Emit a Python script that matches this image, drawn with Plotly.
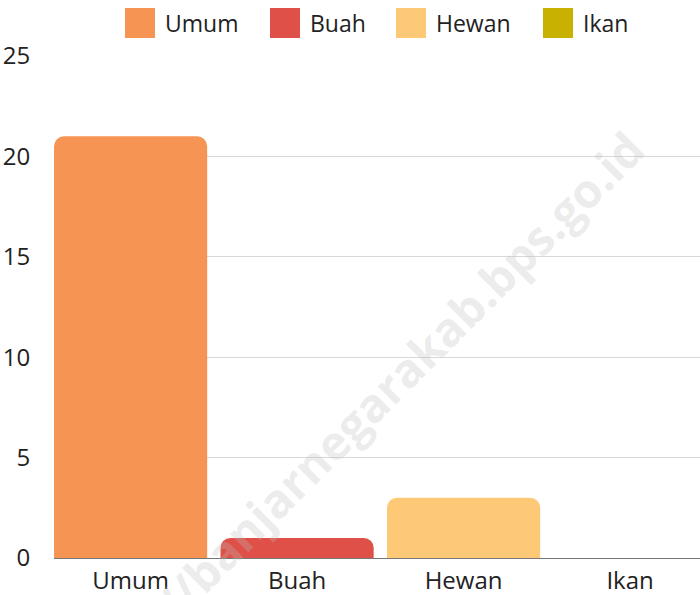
import plotly.graph_objects as go

categories = ["Umum", "Buah", "Hewan", "Ikan"]
values = [21, 1, 3, 0]
colors = ["#f69453", "#df5148", "#fec977", "#c9b102"]
y_ticks = [0, 5, 10, 15, 20, 25]

W, H = 700, 595
ML, MR, MT, MB = 54, 0, 56, 37
PW, PH = W - ML - MR, H - MT - MB

def px_x(p):
    return (p - ML) / PW

def px_y(p):
    return (H - MB - p) / PH

FONT = "Open Sans"

fig = go.Figure()
for c, v, col in zip(categories, values, colors):
    fig.add_trace(go.Bar(
        x=[c], y=[v], name=c, marker=dict(color=col, line=dict(width=0), cornerradius=10),
        width=0.92, showlegend=False,
    ))

# custom legend (large square swatches)
legend_sq_x = [125, 270, 396, 543]
for c, col, sx in zip(categories, colors, legend_sq_x):
    fig.add_shape(type="rect", xref="paper", yref="paper",
                  x0=px_x(sx), x1=px_x(sx + 30), y0=px_y(38), y1=px_y(8),
                  fillcolor=col, line=dict(width=0))
    fig.add_annotation(xref="paper", yref="paper", x=px_x(sx + 38), y=px_y(23),
                       text=c, showarrow=False, xanchor="left", yanchor="middle",
                       font=dict(family=FONT, size=23, color="#222"))

# watermark
fig.add_annotation(xref="paper", yref="paper", x=px_x(351), y=px_y(424),
                   xanchor="center", yanchor="middle",
                   text="https://banjarnegarakab.bps.go.id", showarrow=False,
                   textangle=-45, font=dict(family=FONT, size=47, color="rgba(190,190,190,0.28)", weight="bold"))

fig.update_layout(
    width=W, height=H,
    margin=dict(l=ML, r=MR, t=MT, b=MB, pad=0, autoexpand=False),
    paper_bgcolor="white", plot_bgcolor="white",
    barmode="overlay",
    showlegend=False,
    font=dict(family=FONT, size=24, color="#222"),
    xaxis=dict(categoryorder="array", categoryarray=categories, automargin=False,
               range=[-0.46, 3.42], showgrid=False, showline=True,
               linecolor="#777", linewidth=1, ticks="outside", ticklen=1,
               tickcolor="rgba(0,0,0,0)", tickfont=dict(size=24, color="#222")),
    yaxis=dict(range=[0, 25], tickvals=y_ticks, showgrid=True, gridcolor="#d8d8d8",
               automargin=False,
               gridwidth=1, zeroline=False, ticks="outside", ticklen=18,
               tickcolor="rgba(0,0,0,0)", tickfont=dict(size=24, color="#222")),
)

fig.write_html("out.html", config={"displayModeBar": False},
               post_script="document.body.style.margin='0px';")
